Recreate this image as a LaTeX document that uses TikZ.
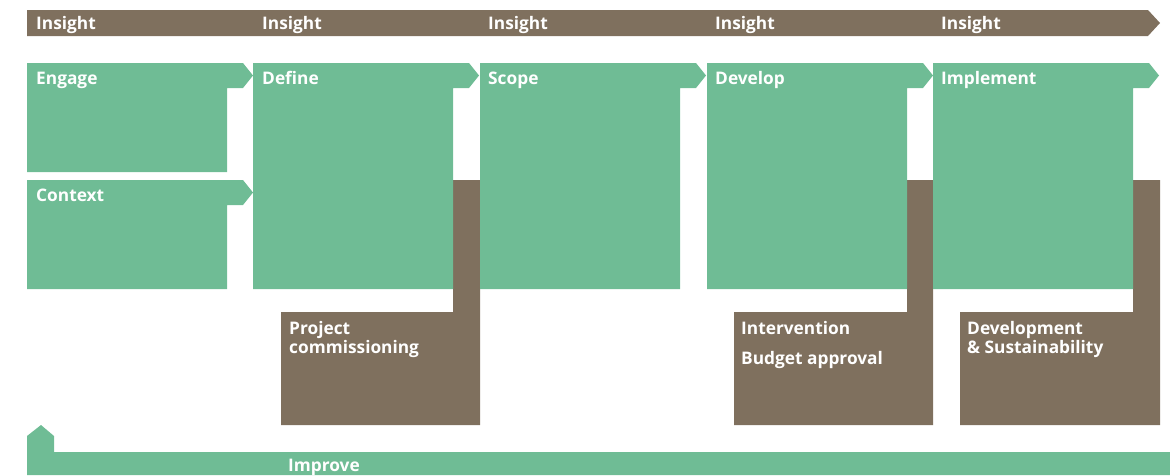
\documentclass[tikz,border=0pt]{standalone}
\usepackage{fontspec}
\setmainfont{Open Sans}
\definecolor{stone}{HTML}{7F705E}
\definecolor{sage}{HTML}{6FBC95}

\begin{document}
\begin{tikzpicture}[x=1pt,y=-1pt,
	lbl/.style={anchor=base west,inner sep=0pt,text=white,font=\fontsize{17.3}{19}\selectfont\bfseries,align=left}]
	\useasboundingbox (0,0) rectangle (1170,475);
	% insight arrow along the top
	\fill[stone] (27,10) -- (1148,10) -- (1160,23) -- (1148,36) -- (27,36) -- cycle;
	% brown blocks hanging below define, develop and implement
	\fill[stone] (453,180) -- (480,180) -- (480,425) -- (281,425) -- (281,312) -- (453,312) -- cycle;
	\fill[stone] (907,180) -- (933,180) -- (933,425) -- (734,425) -- (734,312) -- (907,312) -- cycle;
	\fill[stone] (1133,180) -- (1160,180) -- (1160,425) -- (960,425) -- (960,312) -- (1133,312) -- cycle;
	% green stages, each with its arrow tab
	\fill[sage] (27,63) -- (243,63) -- (253,75.5) -- (243,88) -- (227,88) -- (227,172) -- (27,172) -- cycle;
	\fill[sage] (27,180) -- (243,180) -- (253,192.5) -- (243,205) -- (227,205) -- (227,289) -- (27,289) -- cycle;
	\fill[sage] (253,63) -- (469,63) -- (479,75.5) -- (469,88) -- (453,88) -- (453,289) -- (253,289) -- cycle;
	\fill[sage] (480,63) -- (696,63) -- (706,75.5) -- (696,88) -- (680,88) -- (680,289) -- (480,289) -- cycle;
	\fill[sage] (707,63) -- (923,63) -- (933,75.5) -- (923,88) -- (907,88) -- (907,289) -- (707,289) -- cycle;
	\fill[sage] (933,63) -- (1149,63) -- (1159,75.5) -- (1149,88) -- (1133,88) -- (1133,289) -- (933,289) -- cycle;
	% improve loop at the bottom
	\fill[sage] (27,475) -- (27,436) -- (41,425) -- (54,436) -- (54,452) -- (1170,452) -- (1170,475) -- cycle;

	\node[lbl] (insightA) at (36,29) {Insight};
	\node[lbl] (insightB) at (262,29) {Insight};
	\node[lbl] (insightC) at (488,29) {Insight};
	\node[lbl] (insightD) at (715,29) {Insight};
	\node[lbl] (insightE) at (941,29) {Insight};

	\node[lbl] (engage) at (36,84) {Engage};
	\node[lbl] (context) at (36,201) {Context};
	\node[lbl] (define) at (262,84) {Define};
	\node[lbl] (scope) at (488,84) {Scope};
	\node[lbl] (develop) at (715,84) {Develop};
	\node[lbl] (implement) at (941,84) {Implement};

	% two-line labels sit on the baseline of their last line
	\node[lbl] (commission) at (289,353) {Project\\commissioning};
	\node[lbl] (intervention) at (741,334) {Intervention};
	\node[lbl] (budget) at (741,364) {Budget approval};
	\node[lbl] (sustain) at (967,353) {Development\\\& Sustainability};
	\node[lbl] (improve) at (288,471) {Improve};
\end{tikzpicture}
\end{document}
